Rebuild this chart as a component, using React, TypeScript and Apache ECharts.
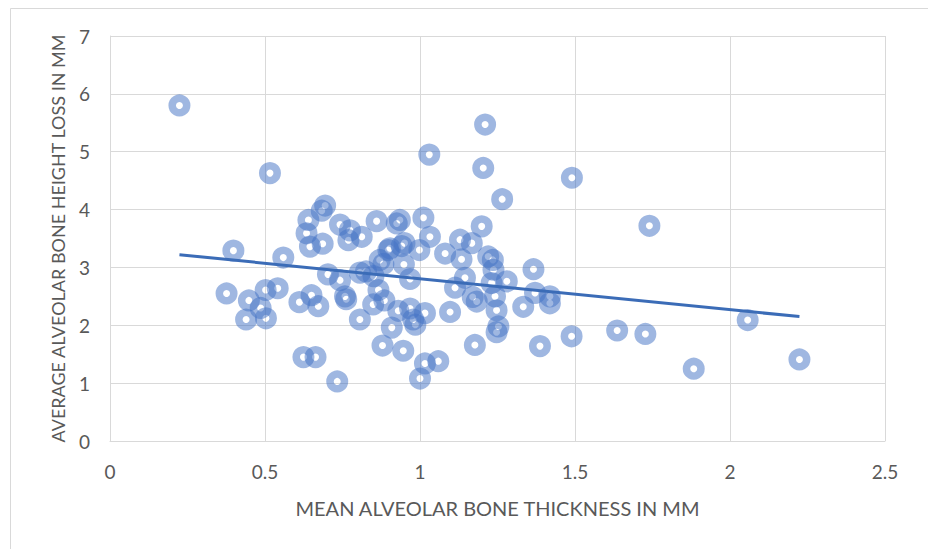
import React, { useEffect, useRef } from "react";
import * as echarts from "echarts";

const thickness: number[] = [
  0.224, 0.516, 0.398, 0.559, 0.376, 0.448, 0.439, 0.503, 0.486, 0.502,
  0.541, 0.611, 0.65, 0.672, 0.624, 0.663, 0.733, 0.694, 0.683, 0.64,
  0.634, 0.645, 0.686, 0.742, 0.774, 0.769, 0.812, 0.86, 0.925, 0.935,
  1.011, 1.199, 0.703, 0.742, 0.758, 0.762, 0.806, 0.806, 0.826, 0.866,
  0.849, 0.885, 0.882, 0.87, 0.948, 0.903, 0.941, 0.95, 0.998, 0.968,
  0.93, 0.968, 0.978, 0.985, 1.016, 1.097, 0.909, 0.879, 0.946, 1.016,
  1.059, 1.0, 1.032, 1.081, 1.129, 1.167, 1.134, 1.22, 1.237, 1.366,
  1.145, 1.113, 1.231, 1.28, 1.371, 1.419, 1.419, 1.183, 1.17, 1.242,
  1.247, 1.253, 1.247, 1.333, 1.177, 1.387, 1.489, 1.636, 1.727, 1.883,
  2.057, 2.224, 1.74, 1.49, 1.265, 1.204, 1.21, 1.03, 1.235, 0.85, 0.898,
];

const heightLoss: number[] = [
  5.8, 4.63, 3.29, 3.17, 2.55, 2.43, 2.1, 2.12, 2.3, 2.61,
  2.64, 2.4, 2.52, 2.33, 1.45, 1.45, 1.03, 4.07, 3.98, 3.82,
  3.59, 3.36, 3.41, 3.74, 3.64, 3.47, 3.53, 3.8, 3.76, 3.82,
  3.86, 3.71, 2.88, 2.78, 2.5, 2.45, 2.1, 2.91, 2.93, 2.61,
  2.36, 2.43, 3.06, 3.13, 3.05, 3.33, 3.37, 3.42, 3.3, 2.8,
  2.25, 2.29, 2.1, 2.01, 2.21, 2.23, 1.96, 1.65, 1.56, 1.34,
  1.38, 1.08, 3.53, 3.24, 3.48, 3.42, 3.14, 3.19, 2.96, 2.97,
  2.82, 2.65, 2.73, 2.76, 2.56, 2.5, 2.38, 2.41, 2.49, 2.5,
  2.26, 1.98, 1.88, 2.32, 1.66, 1.64, 1.81, 1.91, 1.85, 1.25,
  2.09, 1.41, 3.72, 4.55, 4.18, 4.72, 5.47, 4.95, 3.13, 2.85, 3.3,
];

const trendX: number[] = [0.224, 2.224];
const trendY: number[] = [3.22, 2.15];

const xTicks: number[] = [0, 0.5, 1, 1.5, 2, 2.5];
const yTicks: number[] = [0, 1, 2, 3, 4, 5, 6, 7];

const xTitle = "MEAN ALVEOLAR BONE THICKNESS IN MM";
const yTitle = "AVERAGE ALVEOLAR BONE HEIGHT LOSS IN MM";

export default function App() {
  const ref = useRef<HTMLDivElement>(null);

  useEffect(() => {
    if (!ref.current) return;
    const chart = echarts.init(ref.current, undefined, { renderer: "svg" });
    const font = "Lato, 'Open Sans', sans-serif";
    const points = thickness.map((x, i) => [x, heightLoss[i]]);
    const trend = trendX.map((x, i) => [x, trendY[i]]);
    chart.setOption({
      animation: false,
      backgroundColor: "#ffffff",
      graphic: [
        {
          type: "rect",
          shape: { x: 10.5, y: 8.5, width: 940, height: 580 },
          style: { fill: "none", stroke: "#d9d9d9", lineWidth: 1 },
          silent: true,
        },
      ],
      grid: { left: 110, right: 43, top: 36, bottom: 108 },
      xAxis: {
        type: "value",
        min: xTicks[0],
        max: xTicks[xTicks.length - 1],
        interval: 0.5,
        name: xTitle,
        nameLocation: "middle",
        nameGap: 57,
        nameTextStyle: { fontFamily: font, fontSize: 20, color: "#595959" },
        axisLine: { show: true, lineStyle: { color: "#d9d9d9", width: 1 } },
        axisTick: { show: false },
        axisLabel: {
          fontFamily: font,
          fontSize: 19,
          color: "#595959",
          margin: 21,
          formatter: (v: number) => String(v),
        },
        splitLine: { show: true, lineStyle: { color: "#d9d9d9", width: 1 } },
      },
      yAxis: {
        type: "value",
        min: yTicks[0],
        max: yTicks[yTicks.length - 1],
        interval: 1,
        name: yTitle,
        nameLocation: "middle",
        nameGap: 43,
        nameRotate: 90,
        nameTextStyle: { fontFamily: font, fontSize: 18, color: "#595959" },
        axisLine: { show: true, lineStyle: { color: "#d9d9d9", width: 1 } },
        axisTick: { show: false },
        axisLabel: { fontFamily: font, fontSize: 19, color: "#595959", margin: 20 },
        splitLine: { show: true, lineStyle: { color: "#d9d9d9", width: 1 } },
      },
      series: [
        {
          type: "scatter",
          data: points,
          symbol: "circle",
          symbolSize: 14.5,
          itemStyle: {
            color: "rgba(0,0,0,0)",
            borderColor: "rgba(68,114,196,0.64)",
            borderWidth: 7.5,
          },
          z: 2,
        },
        {
          type: "line",
          data: trend,
          symbol: "none",
          lineStyle: { color: "#3b6cb7", width: 3 },
          z: 3,
        },
      ],
    });
    return () => chart.dispose();
  }, []);

  return (
    <div
      ref={ref}
      style={{ position: "absolute", left: 0, top: 0, width: 928, height: 549 }}
    />
  );
}
